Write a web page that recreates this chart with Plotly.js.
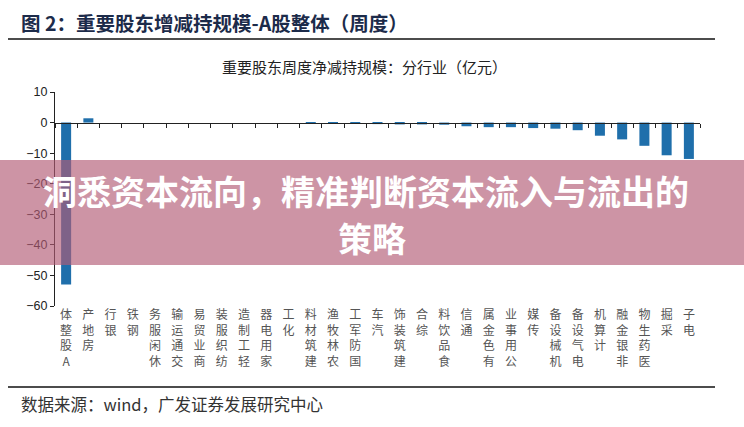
<!DOCTYPE html>
<html>
<head>
<meta charset="utf-8">
<script src="https://cdn.plot.ly/plotly-3.0.1.min.js"></script>
<style>
html,body{margin:0;padding:0;background:#fff;}
#chart{width:744px;height:427px;}
</style>
</head>
<body>
<div id="chart"></div>
<script>
const categories = ["A股整体","房地产","银行","钢铁","休闲服务","交通运输","商业贸易","纺织服装","轻工制造","家用电器","化工","建筑材料","农林牧渔","国防军工","汽车","建筑装饰","综合","食品饮料","通信","有色金属","公用事业","传媒","机械设备","电气设备","计算机","非银金融","医药生物","采掘","电子"];
const values = [-53.0, 1.4, 0, 0, 0, 0, 0, 0, 0, 0, 0, -0.3, -0.3, -0.4, -0.5, -0.6, -0.6, -0.7, -1.2, -1.5, -1.5, -1.8, -2.0, -2.5, -4.3, -5.5, -7.6, -10.7, -11.9];
const yTicks = [10, 0, -10, -20, -30, -40, -50, -60];

const headerText = "图 2：重要股东增减持规模-A股整体（周度）";
const chartTitle = "重要股东周度净减持规模：分行业（亿元）";
const sourceText = "数据来源：wind，广发证券发展研究中心";
const overlayLine1 = "洞悉资本流向，精准判断资本流入与流出的";
const overlayLine2 = "策略";

const W = 744, H = 427;
const M = {l: 55, r: 44, t: 92, b: 121};
const PW = W - M.l - M.r, PH = H - M.t - M.b;
const px = v => (v - M.l) / PW;
const py = v => (H - M.b - v) / PH;

const cjk = '"Noto Sans CJK SC", "Noto Sans", sans-serif';
const vertLabels = categories.map(s => Array.from(s).reverse().join('<br>'));
const yMin = -60, yMax = 10;

const traces = [
  {
    type: 'bar', x: categories, y: values, xaxis: 'x', yaxis: 'y',
    marker: {color: '#1f6fab'}, width: 0.45, hoverinfo: 'x+y', showlegend: false
  },
  {
    type: 'scatter', mode: 'markers', x: categories, y: values, xaxis: 'x2', yaxis: 'y',
    marker: {opacity: 0, size: 1}, hoverinfo: 'skip', showlegend: false
  }
];

const layout = {
  width: W, height: H,
  margin: M,
  paper_bgcolor: '#fff', plot_bgcolor: '#fff',
  showlegend: false,
  xaxis: {
    type: 'category', range: [-0.5, categories.length - 0.5],
    showline: false, ticks: '', showgrid: false, zeroline: false,
    tickmode: 'array', tickvals: categories, ticktext: vertLabels,
    tickangle: 0, tickfont: {family: cjk, size: 12, color: '#555'}
  },
  xaxis2: {
    type: 'category', overlaying: 'x', anchor: 'free',
    position: (0 - yMin) / (yMax - yMin),
    range: [-0.5, categories.length - 0.5],
    showline: true, linecolor: '#222', linewidth: 1,
    ticks: 'outside', tickson: 'boundaries', ticklen: 4, tickcolor: '#222', tickwidth: 1,
    showticklabels: false, showgrid: false, zeroline: false
  },
  yaxis: {
    range: [yMin, yMax], tickmode: 'array', tickvals: yTicks,
    showline: true, linecolor: '#222', linewidth: 1,
    ticks: 'outside', ticklen: 4, tickcolor: '#222',
    showgrid: false, zeroline: false,
    tickfont: {family: 'Arial, "Liberation Sans", sans-serif', size: 12.5, color: '#222'}
  },
  shapes: [
    {type: 'line', xref: 'paper', yref: 'paper', x0: px(8), x1: px(715), y0: py(39), y1: py(39), line: {color: '#111', width: 1.5}},
    {type: 'line', xref: 'paper', yref: 'paper', x0: px(8), x1: px(715), y0: py(387), y1: py(387), line: {color: '#111', width: 1.5}},
    {type: 'rect', xref: 'paper', yref: 'paper', x0: px(-5), x1: px(750), y0: py(265), y1: py(160), layer: 'above',
     fillcolor: 'rgba(178,90,117,0.65)', line: {width: 0}}
  ],
  annotations: [
    {text: headerText, xref: 'paper', yref: 'paper', x: px(19), y: py(22), xanchor: 'left', yanchor: 'middle', showarrow: false,
     font: {family: cjk, size: 19.5, color: '#1c2b4a', weight: 'bold'}},
    {text: chartTitle, xref: 'paper', yref: 'paper', x: px(364), y: py(66), xanchor: 'center', yanchor: 'middle', showarrow: false,
     font: {family: cjk, size: 15, color: '#222'}},
    {text: sourceText, xref: 'paper', yref: 'paper', x: px(19), y: py(404), xanchor: 'left', yanchor: 'middle', showarrow: false,
     font: {family: cjk, size: 16.5, color: '#333'}},
    {text: overlayLine1, xref: 'paper', yref: 'paper', x: px(366), y: py(190), xanchor: 'center', yanchor: 'middle', showarrow: false,
     font: {family: cjk, size: 34, color: '#ffffff', weight: 'bold'}},
    {text: overlayLine2, xref: 'paper', yref: 'paper', x: px(372), y: py(237), xanchor: 'center', yanchor: 'middle', showarrow: false,
     font: {family: cjk, size: 34, color: '#ffffff', weight: 'bold'}}
  ]
};

Plotly.newPlot('chart', traces, layout, {displayModeBar: false, responsive: false});
</script>
</body>
</html>
